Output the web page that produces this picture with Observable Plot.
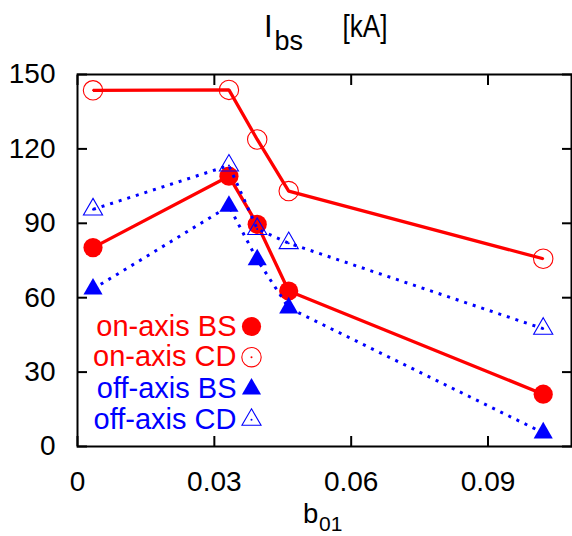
<!DOCTYPE html>
<html><head><meta charset="utf-8">
<script src="https://cdn.jsdelivr.net/npm/d3@7"></script>
<script src="https://cdn.jsdelivr.net/npm/@observablehq/plot@0.6"></script>
<style>body{margin:0;background:#fff}</style>
</head><body><div id="chart"></div>
<script>
// ---- data ----
const b01 = [0.0034, 0.0332, 0.0394, 0.0463, 0.1021];
const onAxisBS = [80.2, 109, 89.6, 62.7, 21.1];
const onAxisCD = [143.6, 143.8, 123.8, 103, 75.7];
const offAxisBS = [63.5, 96.9, 75.3, 55.9, 5.5];
const offAxisCD = [95.6, 113.3, 87.7, 82, 47.5];
const seriesNames = ["on-axis BS", "on-axis CD", "off-axis BS", "off-axis CD"];
const xTicks = [0, 0.03, 0.06, 0.09];
const xTickLabels = ["0", "0.03", "0.06", "0.09"];
const yTicks = [0, 30, 60, 90, 120, 150];
const yTickLabels = ["0", "30", "60", "90", "120", "150"];

// ---- styles ----
const RED = "#ff0000", BLUE = "#0000ff";
const series = [
  {name: seriesNames[0], values: onAxisBS, color: RED, dotted: false, symbol: "circle", r: 9.6, filled: true},
  {name: seriesNames[1], values: onAxisCD, color: RED, dotted: false, symbol: "circle", r: 9.7, filled: false},
  {name: seriesNames[2], values: offAxisBS, color: BLUE, dotted: true, symbol: "triangle", r: 7.1, filled: true},
  {name: seriesNames[3], values: offAxisCD, color: BLUE, dotted: true, symbol: "triangle", r: 7.1, filled: false}
];
const legendDx = 159, legendSymDx = 174;
const legendDy = [252, 282.7, 314.5, 345.3];

const marks = [];
series.forEach((s, k) => {
  const rows = b01.map((x, i) => ({x, y: s.values[i]}));
  marks.push(Plot.line(rows, {x: "x", y: "y", stroke: s.color,
    strokeWidth: s.dotted ? 3 : 3.3, strokeDasharray: s.dotted ? "3,6" : null,
    strokeLinecap: "butt", strokeLinejoin: "miter"}));
  marks.push(Plot.dot(rows, {x: "x", y: "y", symbol: s.symbol, r: s.r,
    fill: s.filled ? s.color : "none", stroke: s.filled ? "none" : s.color, strokeWidth: 1.1}));
  if (!s.filled) marks.push(Plot.dot(rows, {x: "x", y: "y", r: 1, fill: s.color, stroke: "none"}));
  // legend entry
  marks.push(Plot.text([s.name], {frameAnchor: "top-left", dx: legendDx, dy: legendDy[k],
    text: d => d, fill: s.color, textAnchor: "end", lineAnchor: "middle", fontSize: 29}));
  marks.push(Plot.dot([s.name], {frameAnchor: "top-left", dx: legendSymDx, dy: legendDy[k],
    symbol: s.symbol, r: s.r, fill: s.filled ? s.color : "none", stroke: s.filled ? "none" : s.color, strokeWidth: 1.1}));
  if (!s.filled) marks.push(Plot.dot([s.name], {frameAnchor: "top-left", dx: legendSymDx, dy: legendDy[k], r: 1, fill: s.color, stroke: "none"}));
});

const plot = Plot.plot({
  width: 572, height: 536,
  marginLeft: 77, marginRight: 1, marginTop: 74, marginBottom: 90,
  style: {fontFamily: "'Liberation Sans', Arial, Helvetica, sans-serif", fontSize: "28px", color: "black", background: "white", overflow: "visible"},
  x: {domain: [0, 0.1083]},
  y: {domain: [0, 150]},
  marks: [
    Plot.axisY(yTicks, {anchor: "left", tickSize: -10, tickPadding: 32, strokeWidth: 2, label: null, fontSize: 28,
      tickFormat: d => yTickLabels[yTicks.indexOf(d)]}),
    Plot.axisY(yTicks, {anchor: "right", tickSize: -10, strokeWidth: 2, label: null, tickFormat: () => ""}),
    Plot.axisX(xTicks, {anchor: "bottom", tickSize: -10, tickPadding: 35, strokeWidth: 2, label: null, fontSize: 28,
      tickFormat: d => xTickLabels[xTicks.indexOf(d)]}),
    Plot.axisX(xTicks, {anchor: "top", tickSize: -10, strokeWidth: 2, label: null, tickFormat: () => ""}),
    ...marks,
    Plot.frame({stroke: "black", strokeWidth: 2})
  ]
});

const svg = d3.select(plot);
// title with subscript
const t = svg.append("text").attr("y", 37).attr("text-anchor", "start").attr("fill", "black");
t.append("tspan").attr("x", 264).attr("font-size", 31).text("I");
t.append("tspan").attr("x", 274.5).attr("dy", 13).attr("font-size", 27).text("bs");
t.append("tspan").attr("x", 342.5).attr("dy", -13).attr("font-size", 31)
  .attr("textLength", 45).attr("lengthAdjust", "spacingAndGlyphs").text("[kA]");
// x label with subscript
const xl = svg.append("text").attr("y", 523).attr("text-anchor", "start").attr("fill", "black");
xl.append("tspan").attr("x", 303).attr("font-size", 27.5).text("b");
xl.append("tspan").attr("x", 319).attr("dy", 8).attr("font-size", 21).text("01");

document.getElementById("chart").appendChild(plot);
</script>
</body></html>
